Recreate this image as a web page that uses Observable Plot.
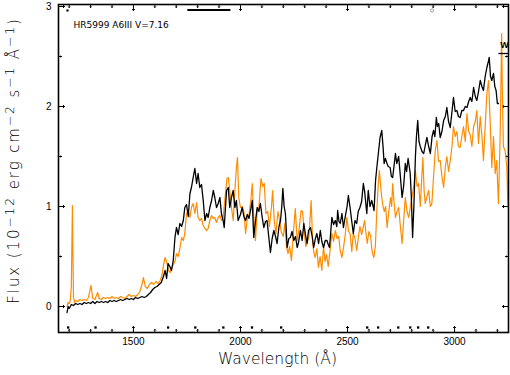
<!DOCTYPE html>
<html>
<head>
<meta charset="utf-8">
<script src="https://cdn.jsdelivr.net/npm/d3@7"></script>
<script src="https://cdn.jsdelivr.net/npm/@observablehq/plot@0.6"></script>
<style>
html,body{margin:0;padding:0;background:#fff;}
#chart svg{display:block;}
</style>
</head>
<body>
<div id="chart"></div>
<script>
// ---- Data (wavelength Å, flux 1e-12 erg cm^-2 s^-1 Å^-1) ----
const titleText = "HR5999 A6III V=7.16";
const xLabel = "Wavelength (Å)";
const yLabel = "Flux (10⁻¹² erg cm⁻² s⁻¹ Å⁻¹)";
// the same y label split into normal / superscript runs
const yLabelParts = [["Flux (10", false], ["−12", true], [" erg cm", false], ["−2", true], [" s", false], ["−1", true], [" Å", false], ["−1", true], [")", false]];

const blackSeries = [
[1190,-0.06],[1195,0.00],[1200,-0.02],[1210,0.02],[1220,0.01],[1230,0.03],[1240,0.02],[1250,0.03],[1260,0.02],[1270,0.04],
[1280,0.03],[1290,0.04],[1300,0.03],[1310,0.05],[1320,0.03],[1330,0.05],[1340,0.04],[1350,0.05],[1360,0.04],[1370,0.05],
[1380,0.04],[1390,0.06],[1400,0.05],[1410,0.06],[1420,0.05],[1430,0.06],[1440,0.07],[1450,0.06],[1460,0.07],[1470,0.08],
[1480,0.07],[1490,0.08],[1500,0.07],[1510,0.09],[1520,0.08],[1530,0.09],[1540,0.10],[1550,0.09],[1560,0.10],[1570,0.12],
[1580,0.14],[1590,0.17],[1600,0.19],[1610,0.20],[1620,0.22],[1630,0.24],[1640,0.30],[1648,0.36],[1655,0.28],[1662,0.43],
[1670,0.40],[1678,0.36],[1686,0.46],[1694,0.69],[1701,0.79],[1709,0.72],[1717,0.83],[1725,0.80],[1733,0.86],[1740,0.99],
[1748,1.02],[1756,0.90],[1764,1.13],[1771,1.19],[1779,1.29],[1787,1.38],[1795,1.23],[1802,1.33],[1810,1.19],[1818,1.22],
[1826,1.06],[1834,0.86],[1842,0.93],[1849,0.89],[1857,0.99],[1865,1.06],[1873,1.16],[1880,1.09],[1888,0.99],[1896,1.03],
[1904,1.09],[1911,0.93],[1919,0.86],[1924,0.79],[1935,1.16],[1943,1.19],[1950,0.99],[1958,1.09],[1966,1.16],[1974,0.99],
[1981,1.06],[1989,0.86],[2000,0.92],[2008,0.99],[2016,0.90],[2024,0.86],[2032,0.92],[2040,0.88],[2048,0.97],[2055,1.06],
[2062,0.69],[2070,0.85],[2078,0.99],[2086,0.95],[2093,1.03],[2101,0.90],[2109,0.79],[2117,0.85],[2124,0.86],[2132,0.70],
[2140,0.54],[2148,0.68],[2156,0.76],[2164,0.70],[2171,0.63],[2180,0.80],[2187,0.86],[2193,1.00],[2198,1.18],[2204,1.00],
[2210,0.93],[2218,0.59],[2226,0.68],[2233,0.69],[2241,0.75],[2249,0.66],[2257,0.70],[2265,0.59],[2272,0.65],[2280,0.76],
[2288,0.66],[2296,0.83],[2305,0.70],[2311,0.63],[2318,0.76],[2327,0.79],[2335,0.70],[2342,0.59],[2350,0.68],[2357,0.73],
[2365,0.63],[2373,0.76],[2380,0.65],[2388,0.59],[2396,0.66],[2404,0.66],[2410,0.62],[2416,0.59],[2427,0.89],[2435,0.82],
[2443,0.86],[2450,0.80],[2454,0.96],[2460,0.85],[2466,0.83],[2474,0.93],[2481,0.79],[2488,0.88],[2492,0.93],[2498,1.00],
[2504,1.11],[2512,0.99],[2520,0.85],[2527,0.73],[2535,0.86],[2543,0.83],[2550,0.95],[2558,0.99],[2566,1.05],[2574,1.23],
[2580,1.15],[2590,0.93],[2597,1.16],[2605,1.00],[2613,1.06],[2620,1.00],[2624,0.96],[2631,1.26],[2637,1.39],[2645,1.55],
[2652,1.69],[2660,1.76],[2666,1.60],[2671,1.43],[2677,1.48],[2683,1.44],[2690,1.40],[2699,1.39],[2705,1.30],[2711,1.29],
[2717,1.40],[2724,1.53],[2730,1.43],[2739,1.50],[2747,1.30],[2755,1.09],[2762,1.20],[2770,1.43],[2776,1.35],[2783,1.48],
[2793,1.33],[2798,1.10],[2804,0.69],[2810,1.00],[2817,1.49],[2822,1.70],[2828,1.86],[2834,1.65],[2840,1.60],[2848,1.55],
[2856,1.53],[2864,1.62],[2871,1.69],[2879,1.60],[2887,1.53],[2895,1.70],[2902,1.76],[2908,1.70],[2915,1.89],[2920,1.80],
[2926,1.83],[2933,1.69],[2941,1.75],[2949,1.86],[2957,1.90],[2964,1.99],[2972,1.85],[2980,1.79],[2988,1.95],[2995,2.09],
[3003,1.95],[3011,1.96],[3018,1.90],[3026,1.89],[3034,1.96],[3042,1.96],[3050,2.00],[3058,1.99],[3066,2.05],[3073,2.09],
[3081,2.05],[3089,2.19],[3097,2.10],[3104,2.06],[3112,2.15],[3120,2.26],[3128,2.20],[3135,2.16],[3143,2.30],[3151,2.39],
[3158,2.45],[3162,2.49],[3168,2.30],[3174,2.26],[3182,2.33],[3188,2.20],[3194,2.16],[3200,2.03],[3205,2.03]
];

const orangeSeries = [
[1190,0.00],[1195,0.04],[1200,0.03],[1205,0.06],[1210,0.20],[1213,0.70],[1215,1.01],[1217,0.60],[1220,0.10],[1225,0.04],
[1230,0.06],[1240,0.05],[1250,0.07],[1260,0.06],[1270,0.07],[1280,0.06],[1290,0.09],[1302,0.21],[1310,0.08],[1320,0.07],
[1333,0.14],[1340,0.08],[1350,0.07],[1360,0.09],[1370,0.08],[1380,0.09],[1390,0.08],[1400,0.10],[1410,0.08],[1420,0.09],
[1430,0.08],[1440,0.10],[1450,0.09],[1460,0.08],[1470,0.10],[1480,0.12],[1490,0.10],[1500,0.11],[1510,0.10],[1520,0.12],
[1530,0.15],[1540,0.22],[1547,0.29],[1555,0.20],[1565,0.18],[1575,0.22],[1585,0.24],[1595,0.22],[1605,0.25],[1615,0.23],
[1625,0.26],[1633,0.31],[1641,0.42],[1648,0.49],[1656,0.44],[1664,0.36],[1672,0.34],[1679,0.39],[1686,0.42],[1694,0.45],
[1701,0.53],[1709,0.50],[1717,0.58],[1725,0.69],[1733,0.66],[1740,0.73],[1748,0.93],[1756,0.96],[1764,0.89],[1771,0.99],
[1779,1.03],[1787,0.93],[1795,1.04],[1802,0.89],[1810,0.86],[1818,0.88],[1826,0.81],[1834,0.78],[1842,0.76],[1849,0.78],
[1857,0.86],[1865,0.91],[1873,0.88],[1880,0.89],[1888,0.84],[1896,0.89],[1904,0.91],[1911,0.86],[1919,0.89],[1924,1.00],
[1930,1.13],[1937,1.28],[1943,1.29],[1950,1.16],[1958,0.99],[1966,0.86],[1974,1.16],[1981,1.39],[1986,1.49],[1992,1.09],
[2000,0.99],[2008,1.00],[2016,0.95],[2024,0.73],[2032,0.88],[2040,0.92],[2048,1.05],[2055,1.23],[2062,0.90],[2070,0.66],
[2078,0.95],[2086,1.00],[2096,1.28],[2104,1.20],[2111,1.23],[2119,0.93],[2127,0.95],[2135,0.80],[2145,1.00],[2150,1.16],
[2158,0.85],[2166,0.73],[2175,0.95],[2183,0.86],[2190,0.75],[2200,0.70],[2207,0.83],[2215,0.60],[2222,0.53],[2230,0.60],
[2238,0.46],[2246,0.70],[2256,0.98],[2265,0.66],[2275,0.79],[2283,0.96],[2290,0.95],[2296,0.80],[2305,0.60],[2313,0.65],
[2320,0.70],[2330,1.06],[2337,0.66],[2342,0.55],[2349,0.49],[2357,0.58],[2364,0.39],[2372,0.50],[2380,0.36],[2388,0.60],
[2395,0.45],[2402,0.52],[2410,0.40],[2418,0.55],[2427,0.73],[2435,0.65],[2443,0.76],[2451,0.68],[2459,0.70],[2466,0.56],
[2474,0.49],[2482,0.60],[2490,0.73],[2497,0.89],[2505,0.75],[2512,0.73],[2520,0.55],[2527,0.73],[2535,0.68],[2543,0.56],
[2550,0.68],[2558,0.80],[2566,0.72],[2574,0.80],[2580,0.86],[2586,0.74],[2592,0.63],[2600,0.75],[2608,0.70],[2615,0.55],
[2623,0.49],[2630,0.60],[2637,0.96],[2643,1.20],[2649,1.36],[2655,1.20],[2660,1.09],[2666,1.00],[2672,0.95],[2678,1.00],
[2685,0.79],[2693,0.95],[2701,1.09],[2706,1.00],[2711,1.23],[2717,1.05],[2724,0.89],[2731,0.95],[2739,0.99],[2747,0.80],
[2755,0.63],[2762,0.85],[2770,1.09],[2778,0.95],[2786,0.89],[2794,1.00],[2801,1.09],[2809,1.20],[2817,1.36],[2825,1.20],
[2832,1.23],[2840,1.00],[2846,1.25],[2852,1.49],[2858,1.15],[2863,1.03],[2871,1.10],[2879,1.16],[2887,1.00],[2894,1.03],
[2902,1.30],[2910,1.56],[2918,1.66],[2925,1.45],[2933,1.46],[2941,1.30],[2949,1.19],[2957,1.40],[2964,1.50],[2972,1.35],
[2980,1.46],[2988,1.60],[2995,1.80],[3003,1.70],[3011,1.75],[3018,1.60],[3026,1.59],[3034,1.70],[3042,1.80],[3050,1.65],
[3058,1.93],[3066,1.75],[3073,1.72],[3081,1.60],[3089,1.80],[3097,1.85],[3104,1.96],[3112,1.63],[3120,1.90],[3128,1.70],
[3135,1.46],[3143,1.80],[3151,2.13],[3159,2.26],[3166,1.86],[3174,1.39],[3182,1.70],[3190,1.33],[3197,1.46],[3205,1.03],
[3213,1.70],[3218,2.40],[3220,2.73],[3223,2.20],[3228,1.60],[3236,1.56],[3244,1.40],[3250,0.99]
];

// flag markers along the bottom edge (wavelengths)
const flagWaves = [1195, 1323, 1662, 1789, 1920, 2054, 2190, 2592, 2643, 2737, 2793, 2830, 2877];
// markers near the top edge
const topBar = [{x1: 1752, x2: 1953, y: 2.965}];
const topDot = [{x: 1192, y: 2.96}];
const topCircle = [{x: 2895, y: 2.96}];
// "W" marker
const wLine = [{x1: 3205, x2: 3252, y: 2.53}];
const wText = [{x: 3233, y: 2.61, t: "W"}];

// axis ticks
const xDomain = [1150, 3252];
const yDomain = [-0.26, 3.02];
const xMajorTicks = [1500, 2000, 2500, 3000];
const xMinorTicks = [1200,1300,1400,1600,1700,1800,1900,2100,2200,2300,2400,2600,2700,2800,2900,3100,3200];
const yMajorTicks = [0, 1, 2, 3];
const yMinorTicks = [0.5, 1.5, 2.5];

const toObj = s => s.map(([w, f]) => ({w, f}));

const font = "'Liberation Sans', Arial, Helvetica, sans-serif";
const labelFont = "'DejaVu Sans', 'Liberation Sans', sans-serif";

const chart = Plot.plot({
  width: 510,
  height: 375,
  marginLeft: 58,
  marginRight: 2,
  marginTop: 4,
  marginBottom: 43,
  style: {fontFamily: font, fontSize: "10px", background: "white", color: "black"},
  x: {domain: xDomain},
  y: {domain: yDomain},
  marks: [
    Plot.axisX({ticks: xMajorTicks, tickSize: 0, tickPadding: 5, tickFormat: d => String(d), fontSize: 10, label: null}),
    Plot.axisY({ticks: yMajorTicks, tickSize: 0, tickPadding: 7, tickFormat: d => String(d), fontSize: 10, label: null}),
    // inward ticks: bottom/top
    Plot.vector(xMajorTicks, {x: d => d, frameAnchor: "bottom", length: 6, rotate: 0, anchor: "start", stroke: "black", strokeWidth: 1}),
    Plot.vector(xMinorTicks, {x: d => d, frameAnchor: "bottom", length: 3, rotate: 0, anchor: "start", stroke: "black", strokeWidth: 1}),
    Plot.vector(xMajorTicks, {x: d => d, frameAnchor: "top", length: 6, rotate: 180, anchor: "start", stroke: "black", strokeWidth: 1}),
    Plot.vector(xMinorTicks, {x: d => d, frameAnchor: "top", length: 3, rotate: 180, anchor: "start", stroke: "black", strokeWidth: 1}),
    // inward ticks: left/right
    Plot.vector(yMajorTicks, {y: d => d, frameAnchor: "left", length: 6, rotate: 90, anchor: "start", stroke: "black", strokeWidth: 1}),
    Plot.vector(yMinorTicks, {y: d => d, frameAnchor: "left", length: 3, rotate: 90, anchor: "start", stroke: "black", strokeWidth: 1}),
    Plot.vector(yMajorTicks, {y: d => d, frameAnchor: "right", length: 6, rotate: -90, anchor: "start", stroke: "black", strokeWidth: 1}),
    Plot.vector(yMinorTicks, {y: d => d, frameAnchor: "right", length: 3, rotate: -90, anchor: "start", stroke: "black", strokeWidth: 1}),
    // spectra
    Plot.line(toObj(orangeSeries), {x: "w", y: "f", stroke: "#ff8c00", strokeWidth: 1.2}),
    Plot.line(toObj(blackSeries), {x: "w", y: "f", stroke: "black", strokeWidth: 1.3}),
    // flags
    Plot.dot(flagWaves, {x: d => d, frameAnchor: "bottom", dy: -5, r: 1.3, symbol: "square", fill: "black", stroke: null}),
    Plot.link(topBar, {x1: "x1", x2: "x2", y1: "y", y2: "y", stroke: "black", strokeWidth: 2.2}),
    Plot.dot(topDot, {x: "x", y: "y", r: 1.2, symbol: "square", fill: "black", stroke: null}),
    Plot.dot(topCircle, {x: "x", y: "y", r: 1.6, stroke: "#888", strokeWidth: 0.8, fill: "none"}),
    Plot.link(wLine, {x1: "x1", x2: "x2", y1: "y", y2: "y", stroke: "black", strokeWidth: 1.3}),
    Plot.text(wText, {x: "x", y: "y", text: "t", fontSize: 9, fontWeight: "bold", fill: "black"}),
    // title and axis labels
    Plot.text([titleText], {text: d => d, frameAnchor: "top-left", lineAnchor: "middle", dx: 15, dy: 20.5, textAnchor: "start", fontSize: 9, fontFamily: labelFont, fill: "black"}),
    Plot.text([xLabel], {text: d => d, frameAnchor: "bottom", lineAnchor: "middle", textAnchor: "middle", dx: -6, dy: 27, fontSize: 15.5, fontFamily: labelFont, fontWeight: 200, fill: "black"}),
    Plot.text([yLabel], {text: d => d, frameAnchor: "left", lineAnchor: "middle", textAnchor: "middle", dx: -44, dy: -8, rotate: -90, fontSize: 15, fontFamily: labelFont, fontWeight: 200, fill: "black"}),
    Plot.frame({stroke: "black", strokeWidth: 1.6})
  ]
});
document.getElementById("chart").appendChild(chart);

// set the y label as normal/superscript runs (still real text)
d3.select(chart).selectAll("text").filter(function() { return this.textContent === yLabel; }).each(function() {
  const t = d3.select(this);
  t.text(null).attr("letter-spacing", "1.9px").attr("text-anchor", "middle");
  let up = false;
  for (const [s, sup] of yLabelParts) {
    const ts = t.append("tspan").text(s);
    if (sup && !up) { ts.attr("dy", "-0.45em").attr("font-size", "0.82em"); up = true; }
    else if (sup) { ts.attr("font-size", "0.82em"); }
    else if (!sup && up) { ts.attr("dy", "0.37em"); up = false; }
  }
});
</script>
</body>
</html>
